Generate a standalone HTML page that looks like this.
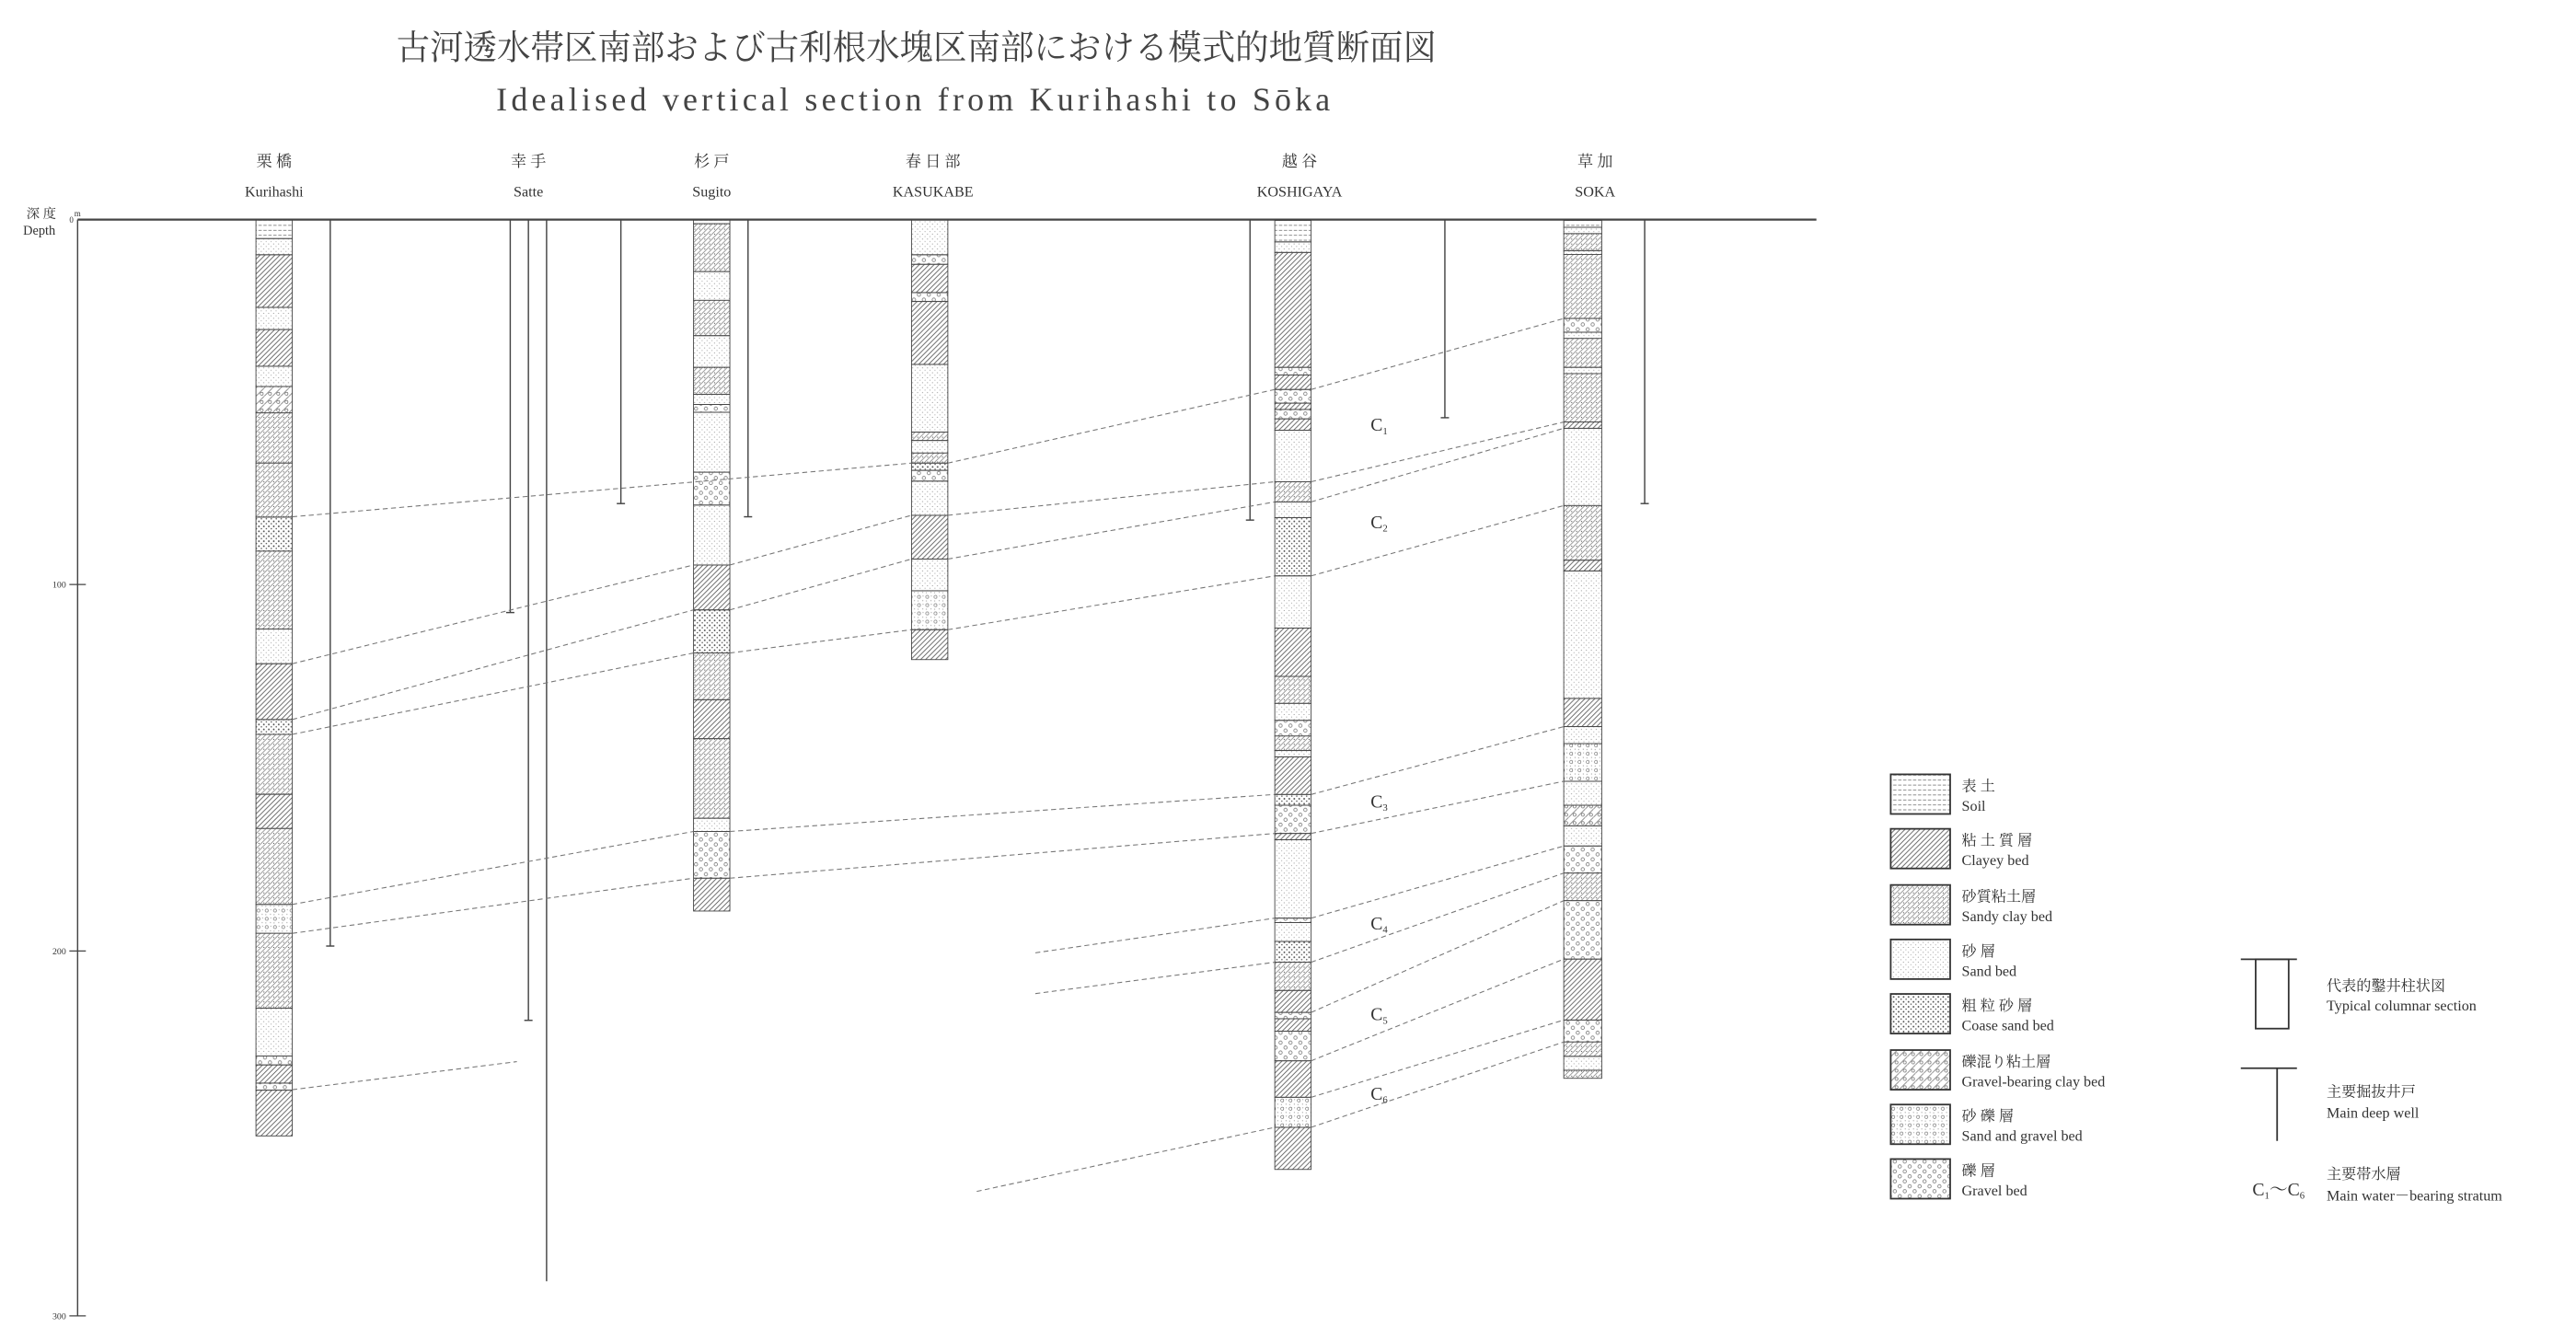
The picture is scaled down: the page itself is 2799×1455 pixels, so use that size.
<!DOCTYPE html>
<html><head><meta charset="utf-8">
<style>
html,body{margin:0;padding:0;background:#fff;}
svg{display:block;}
text{font-family:"Liberation Serif","Noto Serif CJK SC","Noto Sans CJK JP",serif;fill:#333;}
</style></head><body>
<svg width="2799" height="1455" viewBox="0 0 1560 811" preserveAspectRatio="none" xmlns="http://www.w3.org/2000/svg">
<defs>
<pattern id="c" patternUnits="userSpaceOnUse" width="3" height="3"><path d="M-1,4 L4,-1 M-1,1 L1,-1 M2,4 L4,2" stroke="#555" stroke-width="0.45"/></pattern>
<pattern id="z" patternUnits="userSpaceOnUse" width="3" height="3"><rect width="3" height="3" fill="#fff"/><path d="M-1,4 L4,-1 M-1,1 L1,-1 M2,4 L4,2" stroke="#777" stroke-width="0.4"/><circle cx="0.8" cy="0.8" r="0.35" fill="#555"/></pattern>
<pattern id="d" patternUnits="userSpaceOnUse" width="3" height="3"><circle cx="0.7" cy="0.8" r="0.3" fill="#888"/><circle cx="2.2" cy="2.3" r="0.3" fill="#999"/></pattern>
<pattern id="k" patternUnits="userSpaceOnUse" width="3" height="3"><circle cx="0.8" cy="0.8" r="0.5" fill="#444"/><circle cx="2.3" cy="2.2" r="0.45" fill="#555"/></pattern>
<pattern id="g" patternUnits="userSpaceOnUse" width="5" height="5"><path d="M-1,6 L6,-1" stroke="#666" stroke-width="0.4"/><circle cx="3.5" cy="3.5" r="0.9" fill="none" stroke="#555" stroke-width="0.35"/></pattern>
<pattern id="m" patternUnits="userSpaceOnUse" width="5" height="5"><circle cx="1.5" cy="1.5" r="0.9" fill="none" stroke="#666" stroke-width="0.35"/><circle cx="3.8" cy="3.8" r="0.3" fill="#888"/><circle cx="4" cy="1" r="0.3" fill="#888"/><circle cx="1" cy="4" r="0.3" fill="#888"/></pattern>
<pattern id="v" patternUnits="userSpaceOnUse" width="6" height="6"><circle cx="1.5" cy="1.5" r="1" fill="none" stroke="#666" stroke-width="0.4"/><circle cx="4.5" cy="4.5" r="1" fill="none" stroke="#666" stroke-width="0.4"/></pattern>
<pattern id="s" patternUnits="userSpaceOnUse" width="6" height="3"><path d="M0.5,1.5 H2.5 M3.5,1.5 H5.5" stroke="#666" stroke-width="0.45"/></pattern>
</defs>

<!-- Title -->
<text x="555" y="36" font-size="21" text-anchor="middle" textLength="630" lengthAdjust="spacingAndGlyphs" style="fill:#444">古河透水帯区南部および古利根水塊区南部における模式的地質断面図</text>
<text x="553" y="67" font-size="20" text-anchor="middle" textLength="505" lengthAdjust="spacing" style="fill:#444">Idealised vertical section from Kurihashi to Sōka</text>

<!-- Station labels -->
<g font-size="9.5" text-anchor="middle">
<text x="166" y="101">栗 橋</text><text x="320" y="101">幸 手</text><text x="431" y="101">杉 戸</text><text x="565" y="101">春 日 部</text><text x="787" y="101">越 谷</text><text x="966" y="101">草 加</text>
</g>
<g font-size="9" text-anchor="middle">
<text x="166" y="119">Kurihashi</text><text x="320" y="119">Satte</text><text x="431" y="119">Sugito</text><text x="565" y="119">KASUKABE</text><text x="787" y="119">KOSHIGAYA</text><text x="966" y="119">SOKA</text>
</g>

<!-- Depth axis -->
<text x="16" y="132" font-size="8">深 度</text>
<text x="14" y="142" font-size="8">Depth</text>
<text x="42" y="135" font-size="5">0</text><text x="45" y="131" font-size="5">m</text>
<line x1="47" y1="133" x2="47" y2="797" stroke="#444" stroke-width="0.8"/>
<line x1="42" y1="354" x2="52" y2="354" stroke="#444" stroke-width="0.7"/>
<line x1="42" y1="576" x2="52" y2="576" stroke="#444" stroke-width="0.7"/>
<line x1="42" y1="797" x2="52" y2="797" stroke="#444" stroke-width="0.7"/>
<text x="40" y="356" font-size="5.5" text-anchor="end">100</text>
<text x="40" y="578" font-size="5.5" text-anchor="end">200</text>
<text x="40" y="799" font-size="5.5" text-anchor="end">300</text>
<line x1="47" y1="133" x2="1100" y2="133" stroke="#444" stroke-width="1.3"/>

<!-- Wells -->
<g stroke="#444" stroke-width="0.8">
<line x1="200" y1="133" x2="200" y2="573"/><line x1="197.5" y1="573" x2="202.5" y2="573"/>
<line x1="309" y1="133" x2="309" y2="371"/><line x1="306.5" y1="371" x2="311.5" y2="371"/>
<line x1="320" y1="133" x2="320" y2="618"/><line x1="317.5" y1="618" x2="322.5" y2="618"/>
<line x1="331" y1="133" x2="331" y2="776"/>
<line x1="376" y1="133" x2="376" y2="305"/><line x1="373.5" y1="305" x2="378.5" y2="305"/>
<line x1="453" y1="133" x2="453" y2="313"/><line x1="450.5" y1="313" x2="455.5" y2="313"/>
<line x1="757" y1="133" x2="757" y2="315"/><line x1="754.5" y1="315" x2="759.5" y2="315"/>
<line x1="875" y1="133" x2="875" y2="253"/><line x1="872.5" y1="253" x2="877.5" y2="253"/>
<line x1="996" y1="133" x2="996" y2="305"/><line x1="993.5" y1="305" x2="998.5" y2="305"/>
</g>

<!-- Columns -->
<g stroke="#444" stroke-width="0.5">
<!-- Kurihashi -->
<rect x="155" y="133" width="22" height="11.5" fill="url(#s)"/>
<rect x="155" y="144.5" width="22" height="9.8" fill="url(#d)"/>
<rect x="155" y="154.3" width="22" height="31.9" fill="url(#c)"/>
<rect x="155" y="186.2" width="22" height="13.4" fill="url(#d)"/>
<rect x="155" y="199.6" width="22" height="22.2" fill="url(#c)"/>
<rect x="155" y="221.8" width="22" height="12.3" fill="url(#d)"/>
<rect x="155" y="234.1" width="22" height="16" fill="url(#g)"/>
<rect x="155" y="250.1" width="22" height="30.4" fill="url(#z)"/>
<rect x="155" y="280.5" width="22" height="32.7" fill="url(#z)"/>
<rect x="155" y="313.2" width="22" height="20.6" fill="url(#k)"/>
<rect x="155" y="333.8" width="22" height="47.2" fill="url(#z)"/>
<rect x="155" y="381" width="22" height="21" fill="url(#d)"/>
<rect x="155" y="402" width="22" height="33.8" fill="url(#c)"/>
<rect x="155" y="435.8" width="22" height="9" fill="url(#k)"/>
<rect x="155" y="444.8" width="22" height="36.3" fill="url(#z)"/>
<rect x="155" y="481.1" width="22" height="20.7" fill="url(#c)"/>
<rect x="155" y="501.8" width="22" height="46" fill="url(#z)"/>
<rect x="155" y="547.8" width="22" height="17.5" fill="url(#m)"/>
<rect x="155" y="565.3" width="22" height="45.3" fill="url(#z)"/>
<rect x="155" y="610.6" width="22" height="29" fill="url(#d)"/>
<rect x="155" y="639.6" width="22" height="5.4" fill="url(#v)"/>
<rect x="155" y="645" width="22" height="11" fill="url(#c)"/>
<rect x="155" y="656" width="22" height="4.3" fill="url(#v)"/>
<rect x="155" y="660.3" width="22" height="27.7" fill="url(#c)"/>
<!-- Sugito -->
<rect x="420" y="133" width="22" height="2.5" fill="url(#s)"/>
<rect x="420" y="135.5" width="22" height="29" fill="url(#z)"/>
<rect x="420" y="164.5" width="22" height="17.4" fill="url(#d)"/>
<rect x="420" y="181.9" width="22" height="21.4" fill="url(#z)"/>
<rect x="420" y="203.3" width="22" height="19.2" fill="url(#d)"/>
<rect x="420" y="222.5" width="22" height="16.3" fill="url(#z)"/>
<rect x="420" y="238.8" width="22" height="6.2" fill="url(#d)"/>
<rect x="420" y="245" width="22" height="4.7" fill="url(#v)"/>
<rect x="420" y="249.7" width="22" height="36.3" fill="url(#d)"/>
<rect x="420" y="286" width="22" height="19.9" fill="url(#v)"/>
<rect x="420" y="305.9" width="22" height="36.3" fill="url(#d)"/>
<rect x="420" y="342.2" width="22" height="27.2" fill="url(#c)"/>
<rect x="420" y="369.4" width="22" height="26.1" fill="url(#k)"/>
<rect x="420" y="395.5" width="22" height="28.3" fill="url(#z)"/>
<rect x="420" y="423.8" width="22" height="23.6" fill="url(#c)"/>
<rect x="420" y="447.4" width="22" height="48.2" fill="url(#z)"/>
<rect x="420" y="495.6" width="22" height="8" fill="url(#d)"/>
<rect x="420" y="503.6" width="22" height="28.3" fill="url(#v)"/>
<rect x="420" y="531.9" width="22" height="19.9" fill="url(#c)"/>
<!-- Kasukabe -->
<rect x="552" y="133" width="22" height="21.3" fill="url(#d)"/>
<rect x="552" y="154.3" width="22" height="5.8" fill="url(#v)"/>
<rect x="552" y="160.1" width="22" height="17.1" fill="url(#c)"/>
<rect x="552" y="177.2" width="22" height="5.4" fill="url(#v)"/>
<rect x="552" y="182.6" width="22" height="38.1" fill="url(#c)"/>
<rect x="552" y="220.7" width="22" height="41" fill="url(#d)"/>
<rect x="552" y="261.7" width="22" height="5.1" fill="url(#z)"/>
<rect x="552" y="266.8" width="22" height="7.6" fill="url(#d)"/>
<rect x="552" y="274.4" width="22" height="6.1" fill="url(#z)"/>
<rect x="552" y="280.5" width="22" height="4.4" fill="url(#k)"/>
<rect x="552" y="284.9" width="22" height="6.5" fill="url(#v)"/>
<rect x="552" y="291.4" width="22" height="20.7" fill="url(#d)"/>
<rect x="552" y="312.1" width="22" height="26.5" fill="url(#c)"/>
<rect x="552" y="338.6" width="22" height="19.2" fill="url(#d)"/>
<rect x="552" y="357.8" width="22" height="23.6" fill="url(#m)"/>
<rect x="552" y="381.4" width="22" height="18.1" fill="url(#c)"/>
<!-- Koshigaya -->
<rect x="772" y="133.5" width="22" height="13" fill="url(#s)"/>
<rect x="772" y="146.5" width="22" height="6.4" fill="url(#d)"/>
<rect x="772" y="152.9" width="22" height="69.6" fill="url(#c)"/>
<rect x="772" y="222.5" width="22" height="4.6" fill="url(#v)"/>
<rect x="772" y="227.1" width="22" height="8.8" fill="url(#c)"/>
<rect x="772" y="235.9" width="22" height="8.3" fill="url(#v)"/>
<rect x="772" y="244.2" width="22" height="3.8" fill="url(#c)"/>
<rect x="772" y="248" width="22" height="5.7" fill="url(#v)"/>
<rect x="772" y="253.7" width="22" height="6.9" fill="url(#c)"/>
<rect x="772" y="260.6" width="22" height="31.2" fill="url(#d)"/>
<rect x="772" y="291.8" width="22" height="12.2" fill="url(#z)"/>
<rect x="772" y="304" width="22" height="9.5" fill="url(#d)"/>
<rect x="772" y="313.5" width="22" height="35.3" fill="url(#k)"/>
<rect x="772" y="348.8" width="22" height="31.6" fill="url(#d)"/>
<rect x="772" y="380.4" width="22" height="29.3" fill="url(#c)"/>
<rect x="772" y="409.7" width="22" height="16.3" fill="url(#z)"/>
<rect x="772" y="426" width="22" height="10.3" fill="url(#d)"/>
<rect x="772" y="436.3" width="22" height="9.5" fill="url(#v)"/>
<rect x="772" y="445.8" width="22" height="8.8" fill="url(#z)"/>
<rect x="772" y="454.6" width="22" height="3.8" fill="url(#d)"/>
<rect x="772" y="458.4" width="22" height="22.8" fill="url(#c)"/>
<rect x="772" y="481.2" width="22" height="6.5" fill="url(#k)"/>
<rect x="772" y="487.7" width="22" height="17.1" fill="url(#v)"/>
<rect x="772" y="504.8" width="22" height="3.8" fill="url(#c)"/>
<rect x="772" y="508.6" width="22" height="47.5" fill="url(#d)"/>
<rect x="772" y="556.1" width="22" height="2.7" fill="url(#v)"/>
<rect x="772" y="558.8" width="22" height="11.4" fill="url(#d)"/>
<rect x="772" y="570.2" width="22" height="12.6" fill="url(#k)"/>
<rect x="772" y="582.8" width="22" height="17.1" fill="url(#z)"/>
<rect x="772" y="599.9" width="22" height="13.3" fill="url(#c)"/>
<rect x="772" y="613.2" width="22" height="3.8" fill="url(#v)"/>
<rect x="772" y="617" width="22" height="7.6" fill="url(#c)"/>
<rect x="772" y="624.6" width="22" height="17.9" fill="url(#v)"/>
<rect x="772" y="642.5" width="22" height="22.1" fill="url(#c)"/>
<rect x="772" y="664.6" width="22" height="18.2" fill="url(#m)"/>
<rect x="772" y="682.8" width="22" height="25.5" fill="url(#c)"/>
<!-- Soka -->
<rect x="947" y="133.5" width="23" height="4.2" fill="url(#s)"/>
<rect x="947" y="137.7" width="23" height="3.8" fill="url(#d)"/>
<rect x="947" y="141.5" width="23" height="10.3" fill="url(#z)"/>
<rect x="947" y="151.8" width="23" height="2.3" fill="url(#d)"/>
<rect x="947" y="154.1" width="23" height="38.8" fill="url(#z)"/>
<rect x="947" y="192.9" width="23" height="8.3" fill="url(#v)"/>
<rect x="947" y="201.2" width="23" height="3.8" fill="url(#d)"/>
<rect x="947" y="205" width="23" height="17.5" fill="url(#z)"/>
<rect x="947" y="222.5" width="23" height="3.8" fill="url(#d)"/>
<rect x="947" y="226.3" width="23" height="29.3" fill="url(#z)"/>
<rect x="947" y="255.6" width="23" height="3.8" fill="url(#c)"/>
<rect x="947" y="259.4" width="23" height="46.8" fill="url(#d)"/>
<rect x="947" y="306.2" width="23" height="33.1" fill="url(#z)"/>
<rect x="947" y="339.3" width="23" height="6.5" fill="url(#c)"/>
<rect x="947" y="345.8" width="23" height="77.2" fill="url(#d)"/>
<rect x="947" y="423" width="23" height="17.1" fill="url(#c)"/>
<rect x="947" y="440.1" width="23" height="10.3" fill="url(#d)"/>
<rect x="947" y="450.4" width="23" height="22.8" fill="url(#m)"/>
<rect x="947" y="473.2" width="23" height="14.5" fill="url(#d)"/>
<rect x="947" y="487.7" width="23" height="12.5" fill="url(#g)"/>
<rect x="947" y="500.2" width="23" height="12.2" fill="url(#d)"/>
<rect x="947" y="512.4" width="23" height="16.4" fill="url(#v)"/>
<rect x="947" y="528.8" width="23" height="16.7" fill="url(#z)"/>
<rect x="947" y="545.5" width="23" height="35.4" fill="url(#v)"/>
<rect x="947" y="580.9" width="23" height="36.9" fill="url(#c)"/>
<rect x="947" y="617.8" width="23" height="13.3" fill="url(#v)"/>
<rect x="947" y="631.1" width="23" height="8.7" fill="url(#z)"/>
<rect x="947" y="639.8" width="23" height="8.4" fill="url(#d)"/>
<rect x="947" y="648.2" width="23" height="4.9" fill="url(#z)"/>
</g>

<!-- Correlation dashed lines -->
<g stroke="#777" stroke-width="0.6" stroke-dasharray="3,2" fill="none">
<polyline points="177,313 552,280.5"/><polyline points="574,280.5 772,235.9"/><polyline points="794,235.9 947,192.9"/>
<polyline points="177,402 420,342.2"/><polyline points="442,342.2 552,312.1"/><polyline points="574,312.1 772,291.8"/><polyline points="794,291.8 947,255.6"/>
<polyline points="177,435.8 420,369.4"/><polyline points="442,369.4 552,338.6"/><polyline points="574,338.6 772,304"/><polyline points="794,304 947,259.4"/>
<polyline points="177,444.8 420,395.5"/><polyline points="442,395.5 552,381.4"/><polyline points="574,381.4 772,348.8"/><polyline points="794,348.8 947,306.2"/>
<polyline points="177,547.8 420,503.6"/><polyline points="442,503.6 772,481.2"/><polyline points="794,481.2 947,440.1"/>
<polyline points="177,565.3 420,531.9"/><polyline points="442,531.9 772,504.8"/><polyline points="794,504.8 947,473.2"/>
<polyline points="627,577.1 772,556.1"/><polyline points="794,556.1 947,512.4"/>
<polyline points="627,601.8 772,582.8"/><polyline points="794,582.8 947,528.8"/>
<polyline points="794,613.2 947,545.5"/>
<polyline points="794,642.5 947,580.9"/>
<polyline points="794,664.6 947,617.8"/>
<polyline points="591.5,721.6 772,682.8"/><polyline points="794,682.8 947,631.1"/>
<polyline points="177,660 313,643"/>
</g>

<!-- C labels -->
<g font-size="11">
<text x="830" y="261">C<tspan font-size="6" dy="2">1</tspan></text>
<text x="830" y="320">C<tspan font-size="6" dy="2">2</tspan></text>
<text x="830" y="489">C<tspan font-size="6" dy="2">3</tspan></text>
<text x="830" y="563">C<tspan font-size="6" dy="2">4</tspan></text>
<text x="830" y="618">C<tspan font-size="6" dy="2">5</tspan></text>
<text x="830" y="666">C<tspan font-size="6" dy="2">6</tspan></text>
</g>

<!-- Legend -->
<g stroke="#333" stroke-width="1">
<rect x="1145" y="469" width="36" height="24" fill="url(#s)"/>
<rect x="1145" y="502" width="36" height="24" fill="url(#c)"/>
<rect x="1145" y="536" width="36" height="24" fill="url(#z)"/>
<rect x="1145" y="569" width="36" height="24" fill="url(#d)"/>
<rect x="1145" y="602" width="36" height="24" fill="url(#k)"/>
<rect x="1145" y="636" width="36" height="24" fill="url(#g)"/>
<rect x="1145" y="669" width="36" height="24" fill="url(#m)"/>
<rect x="1145" y="702" width="36" height="24" fill="url(#v)"/>
</g>
<g font-size="9">
<text x="1188" y="479">表 土</text><text x="1188" y="491">Soil</text>
<text x="1188" y="512">粘 土 質 層</text><text x="1188" y="524">Clayey bed</text>
<text x="1188" y="546">砂質粘土層</text><text x="1188" y="558">Sandy clay bed</text>
<text x="1188" y="579">砂 層</text><text x="1188" y="591">Sand bed</text>
<text x="1188" y="612">粗 粒 砂 層</text><text x="1188" y="624">Coase sand bed</text>
<text x="1188" y="646">礫混り粘土層</text><text x="1188" y="658">Gravel-bearing clay bed</text>
<text x="1188" y="679">砂 礫 層</text><text x="1188" y="691">Sand and gravel bed</text>
<text x="1188" y="712">礫 層</text><text x="1188" y="724">Gravel bed</text>
</g>
<g stroke="#333" stroke-width="1" fill="none">
<line x1="1357" y1="581" x2="1391" y2="581"/>
<rect x="1366" y="581" width="20" height="42"/>
<line x1="1357" y1="647" x2="1391" y2="647"/>
<line x1="1379" y1="647" x2="1379" y2="691"/>
</g>
<g font-size="9">
<text x="1409" y="600">代表的鑿井柱状図</text><text x="1409" y="612">Typical columnar section</text>
<text x="1409" y="664">主要掘抜井戸</text><text x="1409" y="677">Main deep well</text>
<text x="1409" y="714">主要帯水層</text><text x="1409" y="727">Main water－bearing stratum</text>
<text x="1364" y="724" font-size="11">C<tspan font-size="6" dy="2">1</tspan><tspan dy="-2">～C</tspan><tspan font-size="6" dy="2">6</tspan></text>
</g>
</svg>
</body></html>
